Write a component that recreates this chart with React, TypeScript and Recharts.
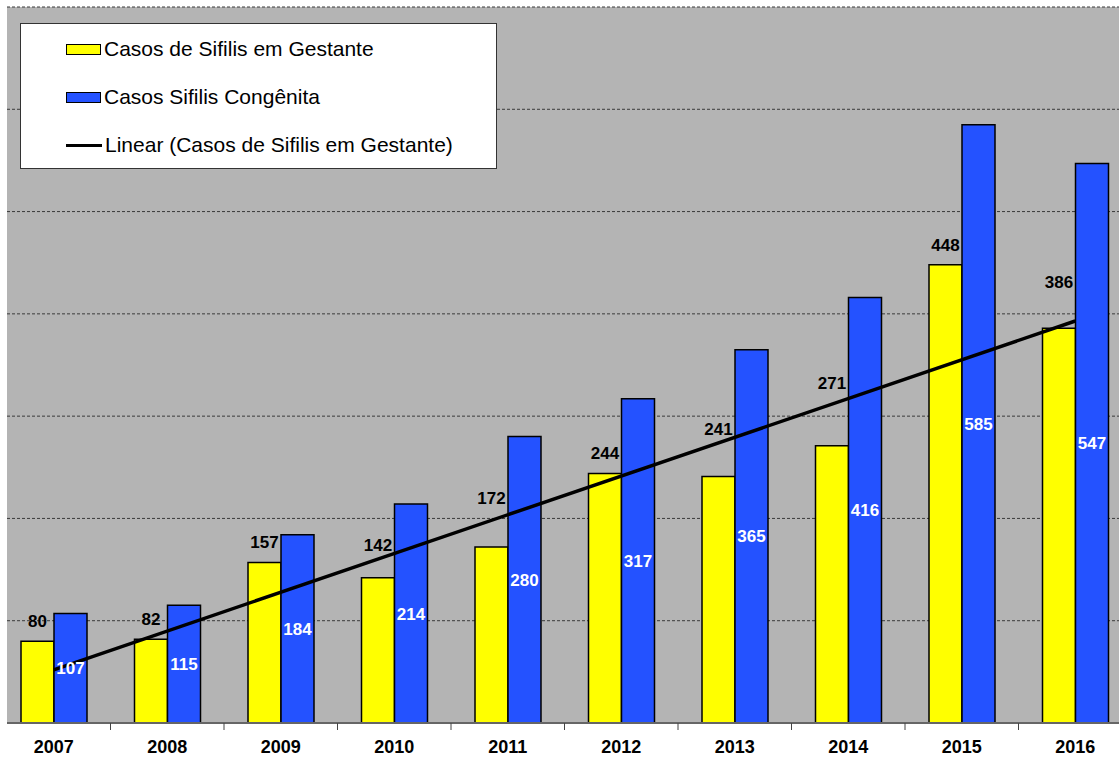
import React from 'react'
import {
  BarChart, Bar, XAxis, YAxis, CartesianGrid, LabelList, ReferenceLine, Legend,
} from 'recharts'

const anos = ['2007', '2008', '2009', '2010', '2011', '2012', '2013', '2014', '2015', '2016']
const gestante = [80, 82, 157, 142, 172, 244, 241, 271, 448, 386]
const congenita = [107, 115, 184, 214, 280, 317, 365, 416, 585, 547]
// extremos da linha de tendência
const tendencia = [52, 393]
const yTicks = [0, 100, 200, 300, 400, 500, 600, 700]

const data = anos.map((ano, i) => ({ ano, gestante: gestante[i], congenita: congenita[i] }))

const FONTE = '"Liberation Sans", Arial, sans-serif'
const AMARELO = '#FFFF00'
const AZUL = '#2452FF'

// rótulos que foram puxados para cima no original (px extra), para fugir da linha
const subirRotulo: Record<string, number> = { '2010': 13, '2011': 29, '2013': 27, '2014': 43, '2016': 26 }

// tick do eixo X: texto no centro, tracinho na divisa entre categorias
function TickAno(props: any) {
  const { x, y, payload } = props
  const off = payload.offset || 0
  return (
    <g>
      <line x1={x + off} y1={y} x2={x + off} y2={y + 7} stroke="#444" strokeWidth={1} />
      <text x={x} y={y + 30} textAnchor="middle" fontFamily={FONTE} fontWeight="bold" fontSize={18} fill="#000">
        {payload.value}
      </text>
    </g>
  )
}

function RotuloGestante(props: any) {
  const { x, y, width, value, index } = props
  const extra = subirRotulo[anos[index]] || 0
  return (
    <text
      x={x + width / 2}
      y={y - 14 - extra}
      textAnchor="middle"
      fontFamily={FONTE}
      fontWeight="bold"
      fontSize={17}
      fill="#000"
    >
      {value}
    </text>
  )
}

function Legenda() {
  const itens = [
    { tipo: 'rect', cor: AMARELO, nome: 'Casos de Sifilis em Gestante' },
    { tipo: 'rect', cor: AZUL, nome: 'Casos Sifilis Congênita' },
    { tipo: 'line', cor: '#000', nome: 'Linear (Casos de Sifilis em Gestante)' },
  ]
  return (
    <div style={{
      width: 475, height: 144, background: '#fff', border: '1px solid #333',
      boxSizing: 'content-box', position: 'relative', fontFamily: FONTE,
    }}>
      {itens.map((it, i) => (
        <div key={i} style={{
          position: 'absolute', left: 45, top: 25 + i * 48 - 13, height: 26,
          display: 'flex', alignItems: 'center', whiteSpace: 'nowrap',
        }}>
          {it.tipo === 'rect' ? (
            <span style={{ width: 33, height: 9, background: it.cor, border: '1.5px solid #000', display: 'inline-block' }} />
          ) : (
            <span style={{ width: 36, height: 3, background: '#000', display: 'inline-block' }} />
          )}
          <span style={{ fontSize: 21, color: '#000', marginLeft: 3 }}>{it.nome}</span>
        </div>
      ))}
    </div>
  )
}

export default function App() {
  return (
    <div style={{ position: 'absolute', left: 0, top: 0, width: 1119, height: 757, background: '#fff', overflow: 'hidden' }}>
      <BarChart
        width={1119}
        height={757}
        data={data}
        margin={{ top: 7, right: 0, left: 7, bottom: 0 }}
        barCategoryGap={24}
        barGap={0}
      >
        <CartesianGrid vertical={false} fill="#B4B4B4" stroke="#3a3a3a" strokeDasharray="3 2" />
        <XAxis
          dataKey="ano"
          height={34}
          padding={{ left: -10, right: -13 }}
          axisLine={{ stroke: '#666', strokeWidth: 2 }}
          tickLine={false}
          tickSize={0}
          tickMargin={0}
          tick={<TickAno />}
          interval={0}
        />
        <YAxis hide domain={[0, 700]} ticks={yTicks} />
        <Legend
          layout="vertical"
          align="center"
          verticalAlign="middle"
          wrapperStyle={{ left: 20, top: 23, width: 477, height: 146 }}
          content={() => <Legenda />}
        />
        <Bar dataKey="gestante" name="Casos de Sifilis em Gestante" fill={AMARELO} stroke="#000" strokeWidth={1.5} isAnimationActive={false}>
          <LabelList dataKey="gestante" content={<RotuloGestante />} />
        </Bar>
        <Bar dataKey="congenita" name="Casos Sifilis Congênita" fill={AZUL} stroke="#000" strokeWidth={1.5} isAnimationActive={false}>
          <LabelList dataKey="congenita" position="center" fill="#fff" fontFamily={FONTE} fontWeight="bold" fontSize={17} />
        </Bar>
        <ReferenceLine
          segment={[{ x: anos[0], y: tendencia[0] }, { x: anos[anos.length - 1], y: tendencia[1] }]}
          stroke="#000"
          strokeWidth={3.5}
          ifOverflow="visible"
        />
      </BarChart>
    </div>
  )
}
